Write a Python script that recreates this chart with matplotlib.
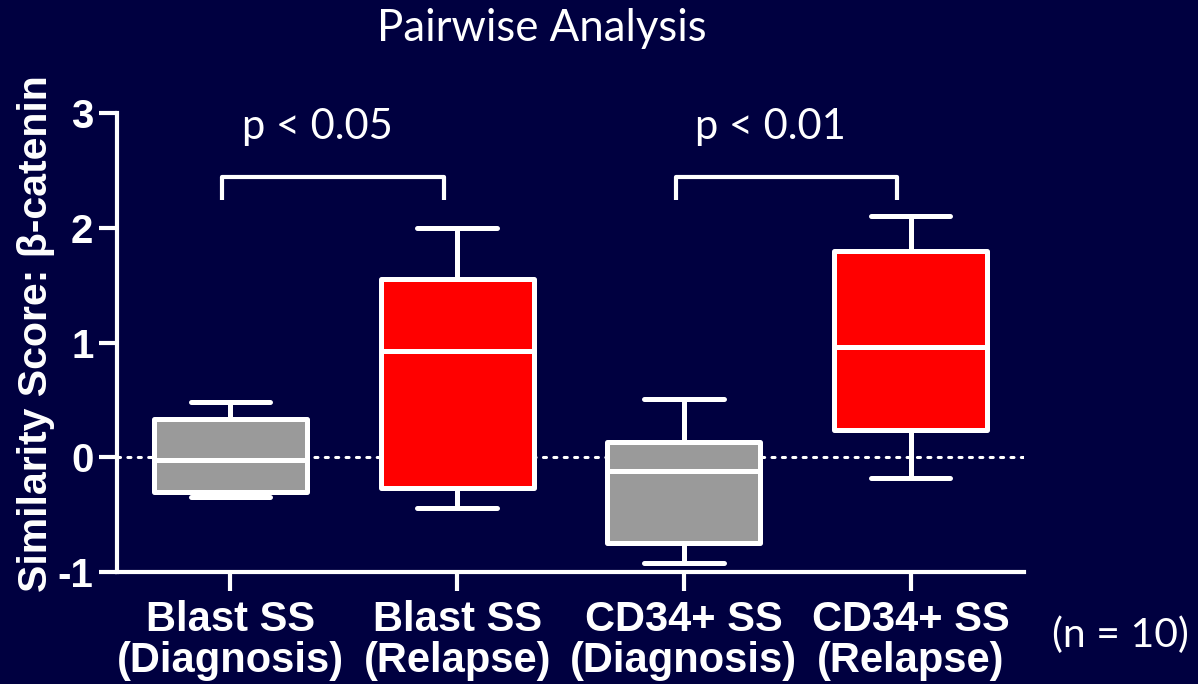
import numpy as np
import matplotlib
matplotlib.use("Agg")
import matplotlib.pyplot as plt

### Données : résumés des boîtes (score de similarité β-caténine)
groupes = ["Blast SS\n(Diagnosis)", "Blast SS\n(Relapse)",
           "CD34+ SS\n(Diagnosis)", "CD34+ SS\n(Relapse)"]
moustache_haut = [0.48, 2.00, 0.51, 2.10]
q3 = [0.33, 1.55, 0.13, 1.80]
mediane = [-0.02, 0.93, -0.12, 0.96]
q1 = [-0.30, -0.27, -0.75, 0.24]
moustache_bas = [-0.35, -0.44, -0.92, -0.18]
couleurs = ["#9a9a9a", "#ff0000", "#9a9a9a", "#ff0000"]

# comparaisons appariées : (groupe gauche, groupe droit, texte)
comparaisons = [(1, 2, "p < 0.05"), (3, 4, "p < 0.01")]

fond = "#000040"
blanc = "white"

fig = plt.figure(figsize=(11.98, 6.84), dpi=100, facecolor=fond)
ax = fig.add_axes([0.0977, 0.1637, 0.7571, 0.6711])
ax.set_facecolor(fond)

# ligne pointillée à zéro
ax.axhline(0, color=blanc, lw=2.2, ls=(0, (1, 2.4)), dash_capstyle="round", zorder=1)

stats = []
for i in range(len(groupes)):
    stats.append(dict(med=mediane[i], q1=q1[i], q3=q3[i],
                      whislo=moustache_bas[i], whishi=moustache_haut[i], fliers=[]))
pos = np.arange(1, len(groupes) + 1)
bp = ax.bxp(stats, positions=pos, widths=0.675, showfliers=False, patch_artist=True,
            boxprops=dict(edgecolor=blanc, linewidth=3.6, joinstyle="round"),
            medianprops=dict(color=blanc, linewidth=3.6, solid_capstyle="butt"),
            whiskerprops=dict(color=blanc, linewidth=3.6),
            capprops=dict(color=blanc, linewidth=3.6, solid_capstyle="round"),
            capwidths=0.35, zorder=3)
for boite, c in zip(bp["boxes"], couleurs):
    boite.set_facecolor(c)

# crochets et valeurs de p
for g, d, txt in comparaisons:
    xg, xd = g - 0.036, d - 0.06
    ax.plot([xg, xg, xd, xd], [2.24, 2.44, 2.44, 2.24], color=blanc, lw=3,
            solid_joinstyle="round", solid_capstyle="butt", clip_on=False)
    ax.text((xg + xd) / 2 - 0.07, 2.88, txt, color=blanc, fontsize=30,
            family="Lato", ha="center", va="center")

ax.set_xlim(0.5, 4.5)
ax.set_ylim(-1, 3)
ax.set_yticks([-1, 0, 1, 2, 3])
ax.set_xticks(pos)
ax.set_xticklabels(groupes, fontsize=30, fontweight="bold", family="Liberation Sans",
                   color=blanc, linespacing=1.05)
ax.set_yticklabels(["-1", "0", "1", "2", "3"], fontsize=29, fontweight="bold",
                   family="Liberation Sans", color=blanc)
ax.tick_params(axis="y", length=13, width=3, color=blanc, pad=4)
ax.tick_params(axis="x", length=14, width=3, color=blanc, pad=6)
for s in ["top", "right"]:
    ax.spines[s].set_visible(False)
for s in ["left", "bottom"]:
    ax.spines[s].set_color(blanc)
    ax.spines[s].set_linewidth(3)

ax.set_ylabel("Similarity Score: β-catenin", fontsize=29.5, fontweight="bold",
              family="Liberation Sans", color=blanc, labelpad=4)
ax.yaxis.set_label_coords(-0.068, 0.52)

fig.text(0.452, 0.958, "Pairwise Analysis", color=blanc, fontsize=31.5, family="Lato",
         ha="center", va="center")
fig.text(0.935, 0.072, "(n = 10)", color=blanc, fontsize=29.5, family="Lato",
         ha="center", va="center")

fig.savefig("out.png", dpi=100, facecolor=fond)
